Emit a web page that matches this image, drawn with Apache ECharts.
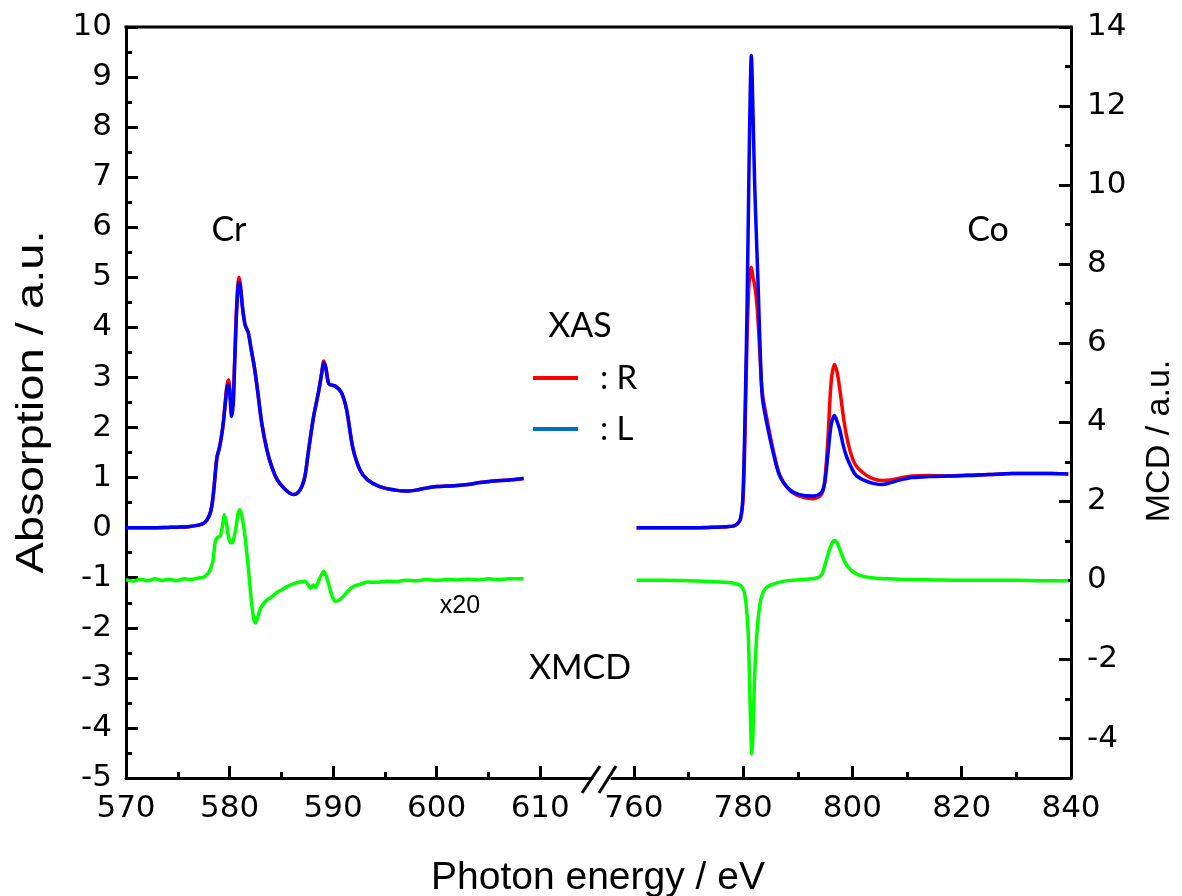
<!DOCTYPE html>
<html><head><meta charset="utf-8">
<script src="https://cdn.jsdelivr.net/npm/echarts@6/dist/echarts.min.js"></script>
<style>html,body{margin:0;padding:0;background:#fff}#c{width:1182px;height:896px}</style>
</head><body><div id="c"></div>
<script>
// ---------- tick labels ----------
const xMajorLeft = [570, 580, 590, 600, 610];
const xMinorLeft = [575, 585, 595, 605];
const xMajorRight = [760, 780, 800, 820, 840];
const xMinorRight = [770, 790, 810, 830];
const yRightMajor = [-4, -2, 0, 2, 4, 6, 8, 10, 12, 14];
const yRightMinor = [-5, -3, -1, 1, 3, 5, 7, 9, 11, 13];

// ---------- Cr L-edge XAS (left axis) ----------
const crEnergy = [570, 571, 572, 573, 574, 575, 576, 577, 577.5, 577.8, 578.1, 578.3, 578.5, 578.65, 578.8, 579.0, 579.2, 579.4, 579.6, 579.75, 579.9, 580.05, 580.2, 580.35, 580.5, 580.7, 580.9, 581.05, 581.25, 581.5, 581.8, 582.1, 582.4, 582.7, 583.1, 583.6, 584.1, 584.6, 585.2, 585.8, 586.2, 586.6, 587.0, 587.3, 587.6, 588.1, 588.6, 588.9, 589.1, 589.3, 589.6, 590.2, 590.8, 591.3, 591.9, 592.6, 593.3, 594.5, 596, 597.1, 598, 599, 600, 601, 602, 603, 604.2, 605.5, 607, 608.4];
const crR = [0.0, 0.0, 0.0, 0.0, 0.005, 0.01, 0.02, 0.05, 0.09, 0.15, 0.27, 0.45, 0.8, 1.15, 1.42, 1.58, 1.8, 2.1, 2.55, 2.85, 2.95, 2.7, 2.3, 2.55, 3.4, 4.5, 5.0, 4.85, 4.4, 4.05, 3.9, 3.55, 3.2, 2.75, 2.1, 1.56, 1.2, 0.96, 0.8, 0.69, 0.66, 0.7, 0.83, 1.05, 1.5, 2.2, 2.72, 3.1, 3.33, 3.2, 2.87, 2.83, 2.7, 2.36, 1.6, 1.15, 0.96, 0.82, 0.75, 0.73, 0.75, 0.79, 0.82, 0.83, 0.84, 0.86, 0.9, 0.93, 0.95, 0.98];
const crL = [0.0, 0.0, 0.0, 0.0, 0.005, 0.01, 0.02, 0.05, 0.09, 0.15, 0.27, 0.45, 0.8, 1.15, 1.42, 1.58, 1.8, 2.1, 2.5, 2.78, 2.86, 2.6, 2.22, 2.45, 3.3, 4.4, 4.9, 4.8, 4.4, 4.05, 3.9, 3.55, 3.2, 2.75, 2.1, 1.56, 1.2, 0.96, 0.8, 0.69, 0.66, 0.7, 0.83, 1.05, 1.5, 2.2, 2.72, 3.08, 3.3, 3.18, 2.87, 2.83, 2.7, 2.36, 1.6, 1.15, 0.96, 0.82, 0.75, 0.73, 0.75, 0.79, 0.82, 0.83, 0.84, 0.86, 0.9, 0.93, 0.95, 0.98];

// ---------- Cr XMCD x20 (right axis) ----------
const crMcdEnergy = [570, 570.7, 571.4, 572.1, 572.8, 573.5, 574.2, 574.9, 575.6, 576.3, 577, 577.5, 577.8, 578.1, 578.4, 578.6, 578.8, 579.1, 579.3, 579.5, 579.7, 579.9, 580.1, 580.3, 580.6, 580.85, 581.0, 581.25, 581.5, 581.8, 582.1, 582.35, 582.5, 582.7, 583.0, 583.3, 583.6, 584.1, 584.6, 585.1, 585.7, 586.2, 586.8, 587.3, 587.6, 587.8, 588.1, 588.3, 588.7, 589.1, 589.35, 589.6, 589.9, 590.2, 590.6, 591.0, 591.5, 592.0, 592.6, 593.3, 594.2, 595.1, 596, 597, 598, 599, 600, 601, 602, 603, 604, 605, 606, 607, 608.4];
const crMcd = [0.02, -0.02, 0.03, -0.01, 0.04, 0.0, 0.03, -0.01, 0.04, 0.02, 0.06, 0.08, 0.14, 0.25, 0.5, 0.95, 1.08, 1.12, 1.35, 1.66, 1.45, 1.1, 0.95, 0.96, 1.3, 1.72, 1.79, 1.55, 1.1, 0.35, -0.5, -1.0, -1.08, -0.95, -0.7, -0.58, -0.5, -0.41, -0.3, -0.23, -0.14, -0.08, -0.04, -0.02, -0.12, -0.2, -0.12, -0.18, 0.05, 0.23, 0.1, -0.12, -0.4, -0.53, -0.5, -0.4, -0.25, -0.15, -0.1, -0.04, -0.05, -0.02, -0.03, 0.0, -0.01, 0.02, 0.0, 0.02, 0.01, 0.03, 0.01, 0.04, 0.02, 0.04, 0.04];

// ---------- Co L-edge XAS (left axis) ----------
const coEnergy = [760.5, 763, 766, 769, 772, 775, 777, 778.2, 779, 779.5, 779.9, 780.2, 780.45, 780.7, 780.95, 781.2, 781.5, 781.8, 782.1, 782.4, 782.75, 783.1, 783.5, 784.3, 785.5, 786.7, 788.5, 790.3, 792.8, 794.3, 794.9, 795.5, 796.1, 796.7, 797.2, 797.7, 798.3, 798.9, 799.8, 800.7, 802.5, 804, 805.5, 807, 808.6, 811, 814, 817.2, 821, 825, 829.3, 833, 836.5, 839.5];
const coR = [0.0, 0.0, 0.0, 0.0, 0.0, 0.01, 0.02, 0.03, 0.08, 0.16, 0.45, 1.2, 2.5, 3.7, 4.6, 5.05, 5.2, 5.0, 4.85, 4.6, 4.1, 3.4, 2.7, 2.2, 1.55, 1.05, 0.75, 0.63, 0.58, 0.66, 0.9, 1.75, 2.9, 3.26, 3.1, 2.76, 2.25, 1.85, 1.45, 1.23, 1.05, 0.97, 0.94, 0.95, 0.99, 1.03, 1.04, 1.03, 1.05, 1.06, 1.08, 1.08, 1.08, 1.07];
const coL = [0.0, 0.0, 0.0, 0.0, 0.0, 0.01, 0.02, 0.03, 0.08, 0.18, 0.5, 1.5, 2.8, 4.3, 6.2, 8.1, 9.43, 8.3, 6.9, 5.9, 4.8, 3.6, 2.62, 2.1, 1.5, 1.03, 0.76, 0.66, 0.63, 0.7, 0.88, 1.45, 2.05, 2.24, 2.12, 1.95, 1.65, 1.43, 1.2, 1.04, 0.93, 0.88, 0.86, 0.9, 0.95, 1.0, 1.02, 1.03, 1.04, 1.06, 1.08, 1.08, 1.08, 1.07];

// ---------- Co XMCD (right axis) ----------
const coMcdEnergy = [760.5, 765, 770, 774, 777, 778.5, 779.5, 780.1, 780.5, 780.9, 781.15, 781.4, 781.6, 781.8, 782.05, 782.4, 782.8, 783.3, 784, 785, 786.5, 788.5, 791, 793.5, 794.4, 795.1, 795.8, 796.3, 796.7, 797.2, 797.8, 798.5, 799.3, 800.5, 802, 804, 806.5, 810, 815, 820, 825, 830, 835, 839.5];
const coMcd = [0.0, 0.0, -0.01, -0.03, -0.05, -0.08, -0.13, -0.25, -0.55, -1.25, -2.4, -3.8, -4.4, -3.9, -2.6, -1.6, -0.9, -0.45, -0.22, -0.12, -0.05, 0.0, 0.02, 0.06, 0.15, 0.45, 0.78, 0.95, 1.01, 0.95, 0.74, 0.5, 0.32, 0.18, 0.1, 0.06, 0.04, 0.02, 0.01, 0.0, 0.0, 0.0, -0.01, -0.01];

const zip = (xs, ys) => xs.map((x, i) => [x, ys[i]]);

const TICK_FONT = '"DejaVu Sans", Arial, sans-serif';
const TITLE_FONT = '"Liberation Sans", Arial, sans-serif';
const NOTE_FONT = 'Lato, "Open Sans", sans-serif';
const black = '#000';
const TICK_SIZE = 31;

function xAxisMajor(grid, min, max, vals) {
  return {
    type: 'value', gridIndex: grid, min: min, max: max, position: 'bottom',
    axisLine: { show: true, onZero: false, lineStyle: { color: black, width: 3 } },
    axisTick: { show: true, inside: true, length: 12, customValues: vals, lineStyle: { color: black, width: 3 } },
    axisLabel: { show: true, customValues: vals, color: black, fontFamily: TICK_FONT, fontSize: TICK_SIZE, margin: 15 },
    splitLine: { show: false }
  };
}
function xAxisMinor(grid, min, max, vals) {
  return {
    type: 'value', gridIndex: grid, min: min, max: max, position: 'bottom',
    axisLine: { show: false, onZero: false },
    axisTick: { show: true, inside: true, length: 6, customValues: vals, lineStyle: { color: black, width: 3 } },
    axisLabel: { show: false },
    splitLine: { show: false }
  };
}
function centeredText(x, y, text, font, extra) {
  return Object.assign({
    type: 'text', x: x, y: y, silent: true,
    style: { text: text, x: 0, y: 0, fill: black, font: font, textAlign: 'center', textVerticalAlign: 'middle', align: 'center', verticalAlign: 'middle' }
  }, extra || {});
}

const chart = echarts.init(document.getElementById('c'), null, { renderer: 'canvas' });
const option = {
  backgroundColor: '#fff',
  animation: false,
  grid: [
    { left: 126, top: 27, width: 466, height: 751, containLabel: false, outerBoundsMode: 'none' },
    { left: 612, top: 27, width: 459, height: 751, containLabel: false, outerBoundsMode: 'none' }
  ],
  xAxis: [
    xAxisMajor(0, 570, 615, xMajorLeft),
    xAxisMinor(0, 570, 615, xMinorLeft),
    xAxisMajor(1, 756, 840, xMajorRight),
    xAxisMinor(1, 756, 840, xMinorRight)
  ],
  yAxis: [
    {
      type: 'value', gridIndex: 0, min: -5, max: 10, interval: 1, position: 'left',
      axisLine: { show: true, onZero: false, lineStyle: { color: black, width: 3 } },
      axisTick: { show: true, inside: true, length: 12, lineStyle: { color: black, width: 3 } },
      minorTick: { show: true, splitNumber: 2, length: 6, lineStyle: { color: black, width: 3 } },
      axisLabel: { color: black, fontFamily: TICK_FONT, fontSize: TICK_SIZE, margin: 14 },
      splitLine: { show: false }, minorSplitLine: { show: false }
    },
    { type: 'value', gridIndex: 0, min: -5, max: 14, position: 'right', show: false, splitLine: { show: false } },
    {
      type: 'value', gridIndex: 1, min: -5, max: 14, interval: 1, position: 'right',
      axisLine: { show: true, onZero: false, lineStyle: { color: black, width: 3 } },
      axisTick: { show: true, inside: true, length: 12, customValues: yRightMajor, lineStyle: { color: black, width: 3 } },
      axisLabel: { customValues: yRightMajor, color: black, fontFamily: TICK_FONT, fontSize: TICK_SIZE, margin: 16 },
      splitLine: { show: false }
    },
    {
      type: 'value', gridIndex: 1, min: -5, max: 14, interval: 1, position: 'right',
      axisLine: { show: false, onZero: false },
      axisTick: { show: true, inside: true, length: 6, customValues: yRightMinor, lineStyle: { color: black, width: 3 } },
      axisLabel: { show: false },
      splitLine: { show: false }
    },
    { type: 'value', gridIndex: 1, min: -5, max: 10, position: 'left', show: false, splitLine: { show: false } }
  ],
  legend: {
    orient: 'vertical', left: 533, top: 360, padding: 0, itemWidth: 45, itemHeight: 4, icon: 'rect',
    itemGap: 15, selectedMode: false,
    formatter: (n) => '  : ' + n,
    textStyle: { fontFamily: NOTE_FONT, fontSize: 33, color: black, lineHeight: 36 },
    data: [
      { name: 'R', itemStyle: { color: '#ff0000', borderWidth: 0 } },
      { name: 'L', itemStyle: { color: '#0070c0', borderWidth: 0 } }
    ]
  },
  series: [
    { name: 'R', type: 'line', xAxisIndex: 0, yAxisIndex: 0, data: zip(crEnergy, crR), showSymbol: false, smooth: 0.3, color: '#ff0000', lineStyle: { width: 3.5 }, z: 2 },
    { name: 'L', type: 'line', xAxisIndex: 0, yAxisIndex: 0, data: zip(crEnergy, crL), showSymbol: false, smooth: 0.3, color: '#0000ff', lineStyle: { width: 3.5 }, z: 3 },
    { name: 'XMCD Cr', type: 'line', xAxisIndex: 0, yAxisIndex: 1, data: zip(crMcdEnergy, crMcd), showSymbol: false, smooth: 0.2, color: '#00ff00', lineStyle: { width: 3.5 }, z: 2 },
    { name: 'R', type: 'line', xAxisIndex: 2, yAxisIndex: 4, data: zip(coEnergy, coR), showSymbol: false, smooth: 0.3, color: '#ff0000', lineStyle: { width: 3.5 }, z: 2 },
    { name: 'L', type: 'line', xAxisIndex: 2, yAxisIndex: 4, data: zip(coEnergy, coL), showSymbol: false, smooth: 0.3, color: '#0000ff', lineStyle: { width: 3.5 }, z: 3 },
    { name: 'XMCD Co', type: 'line', xAxisIndex: 2, yAxisIndex: 2, data: zip(coMcdEnergy, coMcd), showSymbol: false, smooth: 0.3, color: '#00ff00', lineStyle: { width: 3.5 }, z: 2 }
  ],
  graphic: [
    { type: 'line', silent: true, shape: { x1: 124.5, y1: 27, x2: 1072.5, y2: 27 }, style: { stroke: black, lineWidth: 3 } },
    { type: 'line', silent: true, shape: { x1: 582, y1: 793, x2: 600, y2: 766 }, style: { stroke: black, lineWidth: 3 } },
    { type: 'line', silent: true, shape: { x1: 599, y1: 793, x2: 616, y2: 766 }, style: { stroke: black, lineWidth: 3 } },
    centeredText(229, 230, 'Cr', '34px ' + NOTE_FONT),
    centeredText(988, 230, 'Co', '34px ' + NOTE_FONT),
    centeredText(580, 326, 'XAS', '34px ' + NOTE_FONT),
    centeredText(580, 668, 'XMCD', '34px ' + NOTE_FONT),
    centeredText(460, 606, 'x20', '25px ' + TITLE_FONT),
    centeredText(33, 402, 'Absorption / a.u.', '38px ' + TITLE_FONT, { rotation: Math.PI / 2, scaleX: 1.24 }),
    centeredText(1160, 441, 'MCD / a.u.', '34px ' + TITLE_FONT, { rotation: Math.PI / 2 }),
    centeredText(598, 878, 'Photon energy / eV', '39px ' + TITLE_FONT)
  ]
};
chart.setOption(option);
</script>
</body></html>
